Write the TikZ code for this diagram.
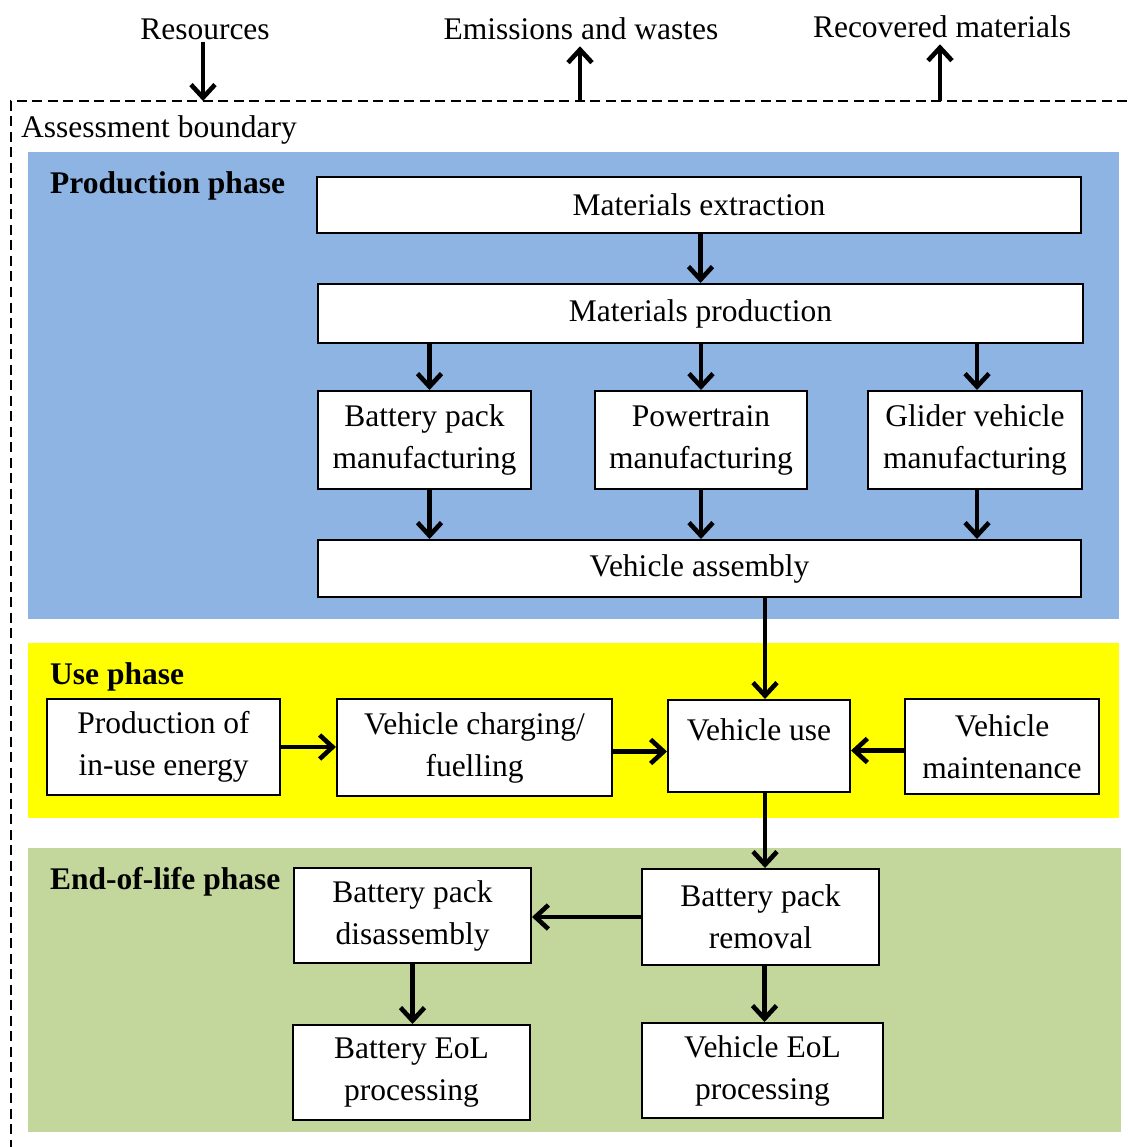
\documentclass[tikz,border=0pt]{standalone}
\usepackage{fontspec}
\setmainfont{Liberation Serif}
\usetikzlibrary{arrows.meta}
\definecolor{prodblue}{RGB}{142,180,227}
\definecolor{useyellow}{RGB}{255,255,0}
\definecolor{eolgreen}{RGB}{195,214,155}
\tikzset{
  txt/.style={font=\fontsize{31.5pt}{42pt}\selectfont, inner sep=0pt},
  box/.style={txt, draw=black, line width=2pt, fill=white, align=center},
  phase/.style={txt, font=\fontsize{31.5pt}{42pt}\selectfont\bfseries, anchor=west},
  arr/.style={line width=4.6pt, -{Straight Barb[length=13pt, width=24pt, line width=4.6pt]}},
  bound/.style={line width=2.6pt, dash pattern=on 10pt off 5.5pt}
}
\begin{document}
\begin{tikzpicture}[x=1pt, y=-1pt]
\useasboundingbox (0,0) rectangle (1127,1147);

% phase backgrounds
\fill[prodblue] (28,152) rectangle (1119,619);
\fill[useyellow] (28,643) rectangle (1119,818);
\fill[eolgreen] (28,848) rectangle (1121,1132);

% assessment boundary
\draw[bound] (1127,101) -- (11,101) -- (11,1147);
\node[txt, anchor=west] (ab) at (21,130) {Assessment boundary};
\coordinate (bres) at (203,101);
\coordinate (bemi) at (580,101);
\coordinate (brec) at (940,101);

% flows across the boundary
\node[txt] (res) at (205,29) {Resources};
\node[txt] (emi) at (581,29) {Emissions and wastes};
\node[txt] (rec) at (942,27) {Recovered materials};
\draw[arr] ([yshift=-2pt]res.south -| bres) -- (bres);
\draw[arr] (bemi) -- ([yshift=-6pt]emi.south -| bemi);
\draw[arr] (brec) -- ([yshift=-6pt]rec.south -| brec);

% phase titles
\node[phase] (pp) at (50,186) {Production phase};
\node[phase] (up) at (50,677) {Use phase};
\node[phase] (ep) at (50,882) {End-of-life phase};

% production phase
\node[box, minimum width=764pt, minimum height=56pt] (mext) at (699,205) {Materials extraction};
\node[box, minimum width=765pt, minimum height=59pt] (mprod) at (700.5,313.5) {Materials production};
\node[box, minimum width=213pt, minimum height=98pt] (bat) at (424.5,440) {Battery pack\\manufacturing};
\node[box, minimum width=212pt, minimum height=98pt] (pwr) at (701,440) {Powertrain\\manufacturing};
\node[box, minimum width=214pt, minimum height=98pt] (gld) at (975,440) {Glider vehicle\\manufacturing};
\node[box, minimum width=763pt, minimum height=57pt] (asm) at (699.5,568.5) {Vehicle assembly};

\draw[arr] (mext.south -| mprod.north) -- (mprod.north);
\draw[arr] ([xshift=5pt]mprod.south -| bat.north) -- ([xshift=5pt]bat.north);
\draw[arr] (mprod.south -| pwr.north) -- (pwr.north);
\draw[arr] ([xshift=2pt]mprod.south -| gld.north) -- ([xshift=2pt]gld.north);
\draw[arr] ([xshift=5pt]bat.south) -- ([xshift=5pt]asm.north -| bat.south);
\draw[arr] (pwr.south) -- (asm.north -| pwr.south);
\draw[arr] ([xshift=2pt]gld.south) -- ([xshift=2pt]asm.north -| gld.south);

% use phase
\node[box, minimum width=233pt, minimum height=96pt] (energy) at (163.5,747) {Production of\\in-use energy};
\node[box, minimum width=275pt, minimum height=97pt] (charge) at (474.5,747.5) {Vehicle charging/\\fuelling};
\node[box, minimum width=182pt, minimum height=92pt] (vuse) at (759,746) {Vehicle use\\[-10pt]\mbox{}};
\node[box, minimum width=194pt, minimum height=95pt] (maint) at (1002,746.5) {Vehicle\\maintenance};

\draw[arr] ([xshift=6pt]asm.south -| vuse.north) -- ([xshift=6pt]vuse.north);
\draw[arr] (energy.east) -- (charge.west |- energy.east);
\draw[arr] ([yshift=-4pt]charge.east) -- ([yshift=-4pt]vuse.west |- charge.east);
\draw[arr] ([yshift=-4pt]maint.west) -- ([yshift=-4pt]vuse.east |- maint.west);

% end-of-life phase
\node[box, minimum width=237pt, minimum height=95pt] (bdis) at (412.5,915.5) {Battery pack\\disassembly};
\node[box, minimum width=237pt, minimum height=96pt] (brem) at (760.5,917) {Battery pack\\removal};
\node[box, minimum width=237pt, minimum height=95pt] (beol) at (411.5,1072.5) {Battery EoL\\processing};
\node[box, minimum width=241pt, minimum height=95pt] (veol) at (762.5,1070.5) {Vehicle EoL\\processing};

\draw[arr] ([xshift=6pt]vuse.south) -- ([xshift=6pt]brem.north -| vuse.south);
\draw[arr] (brem.west) -- (bdis.east |- brem.west);
\draw[arr] (bdis.south) -- (beol.north -| bdis.south);
\draw[arr] ([xshift=4pt]brem.south) -- ([xshift=4pt]veol.north -| brem.south);
\end{tikzpicture}
\end{document}
